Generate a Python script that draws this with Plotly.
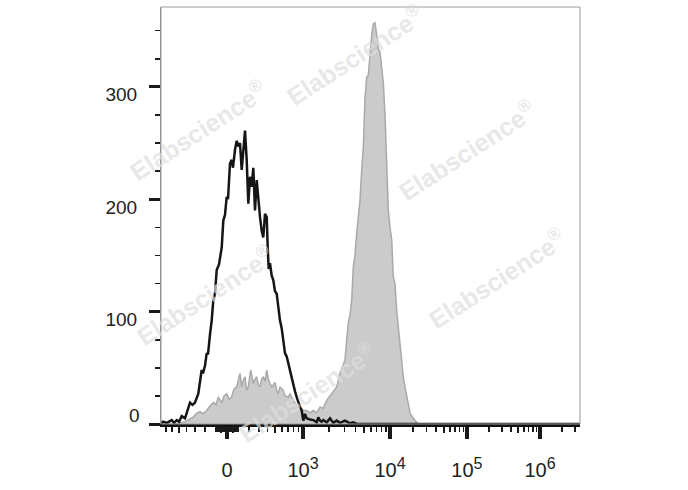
import numpy as np
import plotly.graph_objects as go

# ---------------- data (display channel 0..1000 on biexponential scale, event count) ----------------
BLACK_HIST = [
    (0, 0), (4.8, 2), (14.3, 1), (25.5, 3.5), (31.0, 1), (37.5, 3.5), (43.0, 2), (49.4, 7),
    (57.3, 5), (64.4, 14), (69.2, 19), (75.2, 17), (81.1, 19), (89.0, 27), (93.1, 38), (97.1, 48),
    (100.2, 45), (105.0, 52), (109.1, 63), (112.2, 62), (117.0, 80), (121.0, 92), (124.8, 110),
    (128.9, 116), (132.9, 137), (138.4, 142), (144.9, 157), (148.7, 181), (152.7, 186), (156.8, 202),
    (159.9, 200), (164.7, 232), (168.7, 235), (171.8, 228), (176.6, 244), (180.7, 252), (184.5, 247),
    (188.5, 250), (192.6, 226), (196.4, 241), (200.5, 261), (204.5, 235), (208.4, 196), (212.4, 220),
    (216.5, 211), (220.3, 228), (224.3, 190), (228.4, 217), (232.2, 199), (236.3, 184), (240.3, 172),
    (244.1, 166), (248.2, 187), (252.3, 184), (254.7, 157), (257.0, 138), (260.1, 143), (264.2, 132),
    (268.0, 128), (272.1, 118), (276.1, 116), (280.0, 104), (284.0, 92), (288.1, 85), (291.9, 75),
    (295.9, 63), (300.0, 60), (303.8, 54), (307.9, 46), (311.9, 42), (315.7, 36), (319.8, 29),
    (323.9, 24), (327.7, 19), (331.7, 15), (335.8, 12), (339.6, 3), (343.7, 9), (347.7, 5),
    (355.6, 4), (363.5, 3.5), (371.6, 1.5), (375.4, 6), (379.5, 3), (383.5, 2), (387.3, 3.5),
    (395.5, 1.5), (403.4, 5), (411.2, 1), (419.3, 3), (427.2, 1), (439.1, 3), (451.1, 0.5),
    (458.2, 1.5), (467.8, 0), (1000, 0),
]

GRAY_HIST = [
    (0, 0), (33.4, 0), (45.3, 1), (57.3, 2), (66.8, 4), (77.1, 6), (83.5, 9), (93.1, 11),
    (100.2, 9), (109.1, 12), (117.0, 16), (124.8, 19), (131.3, 17), (136.8, 24), (144.9, 19),
    (150.4, 25), (156.8, 27), (162.3, 22), (168.7, 24), (174.2, 31), (180.7, 33), (184.5, 38),
    (188.5, 45), (192.6, 33), (196.4, 39), (200.5, 42), (204.5, 30), (208.4, 33), (214.1, 48),
    (220.3, 36), (224.3, 40), (228.4, 42), (232.2, 35), (236.3, 33), (240.3, 40), (244.1, 42),
    (248.2, 38), (252.3, 48), (256.1, 40), (260.1, 36), (264.9, 33), (272.1, 37), (276.1, 30),
    (280.0, 27), (284.0, 33), (291.9, 30), (295.9, 25), (303.8, 24), (307.9, 27), (315.7, 21),
    (323.9, 17), (331.7, 15), (339.6, 12), (347.7, 12), (355.6, 10), (363.5, 12), (371.6, 10),
    (379.5, 15), (387.3, 14), (395.5, 21), (403.4, 25), (411.2, 30), (419.3, 33), (427.2, 45),
    (434.4, 52), (439.1, 57), (443.2, 75), (447.0, 90), (451.1, 97), (455.1, 110), (459.0, 140),
    (463.0, 150), (467.1, 170), (470.9, 185), (474.9, 199), (479.0, 226), (482.8, 245), (486.9, 290),
    (490.9, 309), (494.7, 310), (498.8, 331), (502.9, 346), (506.7, 356), (510.7, 357), (514.8, 346),
    (518.6, 334), (522.7, 331), (526.7, 319), (530.5, 304), (534.6, 275), (538.7, 239), (542.5, 190),
    (546.5, 175), (550.6, 164), (554.4, 131), (558.5, 125), (562.5, 101), (566.3, 86), (570.4, 72),
    (574.5, 60), (578.3, 42), (582.3, 33), (589.5, 20), (594.3, 10), (600.2, 6), (606.2, 3),
    (613.4, 0), (1000, 0),
]

Y_MAJOR = [0, 100, 200, 300]
Y_LABELS = ["", "100", "200", "300"]
Y_MINOR = [25, 50, 75, 125, 150, 175, 225, 250, 275, 325, 350]

X_MAJOR_VALUES = [0, 1e3, 1e4, 1e5, 1e6]
X_MAJOR_LABELS = ["0"] + ["10<sup><span style='font-size:16px'>%d</span></sup>" % e for e in (3, 4, 5, 6)]

WATERMARK = "Elabscience<sup>®</sup>"
WATERMARK_SPOTS = [(0.462, 0.885), (0.088, 0.705), (0.730, 0.657), (0.802, 0.350), (0.105, 0.309), (0.348, 0.077)]

# ---------------- biexponential display scale ----------------
ZERO_CH = 157.5
LIN_W = 400.0
DEC_EXP = [3, 4, 5, 6, 7]
DEC_CH = [339.0, 546.5, 730.0, 904.5, 1079.0]
X_RANGE = [0, 1000]


def biex(v):
    v = float(v)
    if abs(v) <= 1000:
        return ZERO_CH + (DEC_CH[0] - ZERO_CH) * np.arcsinh(v / LIN_W) / np.arcsinh(1000 / LIN_W)
    return float(np.interp(np.log10(v), DEC_EXP, DEC_CH))


major_ch = [biex(v) for v in X_MAJOR_VALUES]
medium_raw = [-500, -50, 50, 500, 5e3, 5e4, 5e5]
minor_raw = []
for m in range(1, 10):
    if m != 5:
        minor_raw += [m * 10, -m * 10, m * 100, -m * 100]
for k in range(3, 7):
    for m in range(2, 10):
        if m != 5:
            minor_raw.append(m * 10 ** k)
minor_ch = [c for c in (biex(v) for v in minor_raw) if X_RANGE[0] <= c <= X_RANGE[1]]
medium_ch = [c for c in (biex(v) for v in medium_raw) if X_RANGE[0] <= c <= X_RANGE[1]]

FONT = "Liberation Sans, Arial, sans-serif"

fig = go.Figure()
fig.add_trace(go.Scatter(
    x=[p[0] for p in GRAY_HIST], y=[p[1] for p in GRAY_HIST], mode="lines",
    line=dict(color="#a9a9a9", width=1.5), fill="tozeroy", fillcolor="#cbcbcb",
    hoverinfo="skip", showlegend=False,
))
fig.add_trace(go.Scatter(
    x=[p[0] for p in BLACK_HIST], y=[p[1] for p in BLACK_HIST], mode="lines",
    line=dict(color="#151515", width=2.5), hoverinfo="skip", showlegend=False,
))
fig.add_trace(go.Scatter(x=[], y=[], xaxis="x2", yaxis="y", showlegend=False, hoverinfo="skip"))

fig.update_layout(
    width=688, height=490,
    margin=dict(l=161, r=108, t=7, b=66),
    paper_bgcolor="white", plot_bgcolor="white",
    font=dict(family=FONT, color="#222"),
    hovermode=False,
    xaxis=dict(
        range=X_RANGE, showgrid=False, zeroline=False,
        showline=True, linecolor="#111", linewidth=3,
        tickmode="array", tickvals=major_ch, ticktext=X_MAJOR_LABELS,
        ticks="outside", ticklen=12, tickwidth=3.5, tickcolor="#1a1a1a",
        tickfont=dict(size=20, family=FONT, color="#222"),
        ticklabelstandoff=14,
        minor=dict(tickmode="array", tickvals=minor_ch, ticks="outside", ticklen=5,
                   tickwidth=1.6, tickcolor="#1a1a1a", showgrid=False),
    ),
    xaxis2=dict(
        range=X_RANGE, overlaying="x", anchor="y", side="bottom",
        showgrid=False, zeroline=False, showline=False,
        tickmode="array", tickvals=medium_ch, showticklabels=False,
        ticks="outside", ticklen=8, tickwidth=2, tickcolor="#1a1a1a",
    ),
    yaxis=dict(
        range=[0, 371], showgrid=False, zeroline=False,
        showline=True, linecolor="#8c8c8c", linewidth=1,
        tickmode="array", tickvals=Y_MAJOR, ticktext=Y_LABELS,
        ticks="outside", ticklen=11, tickwidth=3, tickcolor="#1a1a1a",
        tickfont=dict(size=19, family=FONT, color="#222"),
        ticklabelshift=8, ticklabelstandoff=8,
        minor=dict(tickmode="array", tickvals=Y_MINOR, ticks="outside", ticklen=5,
                   tickwidth=1.6, tickcolor="#1a1a1a", showgrid=False),
    ),
    shapes=[dict(type="rect", xref="paper", yref="paper", x0=0, y0=0, x1=1, y1=1,
                 line=dict(color="#9a9a9a", width=1), layer="above")],
)

annotations = [dict(
    text="0", xref="paper", yref="y", x=0, y=0, xanchor="right", yanchor="middle",
    xshift=-19, yshift=9, showarrow=False, font=dict(size=19, family=FONT, color="#222"),
)]
for (wx, wy) in WATERMARK_SPOTS:
    annotations.append(dict(
        text=WATERMARK, xref="paper", yref="paper", x=wx, y=wy, showarrow=False,
        xanchor="center", yanchor="middle",
        textangle=-33, font=dict(size=25, family=FONT, color="rgba(222,222,222,0.7)", weight="bold"),
    ))
fig.update_layout(annotations=annotations)

fig.write_html("out.html", config={"displayModeBar": False, "staticPlot": True},
               post_script="document.body.style.margin='0';")
